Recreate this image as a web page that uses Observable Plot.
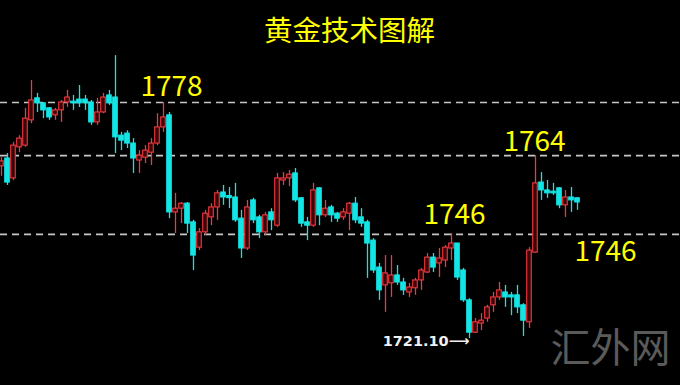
<!DOCTYPE html>
<html>
<head>
<meta charset="utf-8">
<script src="https://cdn.jsdelivr.net/npm/d3@7"></script>
<script src="https://cdn.jsdelivr.net/npm/@observablehq/plot@0.6"></script>
<style>
  html, body { margin: 0; padding: 0; background: #000; }
  #chart { width: 680px; height: 385px; overflow: hidden; }
</style>
</head>
<body>
<div id="chart"></div>
<script>
// Candle data (gold price)
const opens = [1762.6,1764.5,1759.7,1767.2,1767.6,1773.7,1779.0,1777.8,1776.6,1774.9,
  1776.1,1778.0,1778.2,1778.7,1778.7,1778.0,1773.2,1775.6,1779.7,1779.2,
  1770.0,1770.5,1768.1,1764.0,1764.7,1765.9,1768.1,1772.0,1774.9,1751.5,
  1752.4,1753.6,1749.1,1743.0,1746.7,1750.3,1752.7,1756.3,1755.3,1755.1,
  1750.0,1742.8,1754.4,1750.3,1746.7,1751.5,1748.3,1759.2,1759.7,1760.9,
  1754.9,1749.1,1748.3,1757.3,1750.8,1752.7,1751.2,1750.3,1751.2,1753.6,
  1750.3,1749.1,1744.7,1738.2,1733.9,1734.4,1736.3,1734.6,1732.2,1733.2,
  1735.1,1737.0,1740.6,1739.2,1739.9,1742.8,1744.0,1737.5,1730.3,1722.5,
  1724.7,1725.9,1729.1,1731.0,1732.2,1731.5,1731.5,1729.1,1725.0,1741.8,
  1758.7,1756.8,1756.5,1757.3,1753.2,1755.1,1754.9];
const highs = [1764.7,1765.7,1768.4,1770.0,1776.6,1783.3,1780.2,1778.0,1776.8,1776.6,
  1778.5,1780.9,1779.7,1782.1,1779.7,1778.5,1779.0,1780.2,1780.9,1789.3,
  1770.8,1771.2,1769.3,1766.4,1767.6,1769.3,1775.3,1778.0,1775.6,1756.1,
  1753.9,1753.9,1749.6,1747.6,1752.0,1753.6,1756.8,1758.0,1757.5,1758.5,
  1752.0,1754.4,1754.9,1750.8,1751.5,1752.4,1760.9,1761.1,1761.6,1762.1,
  1755.1,1750.3,1758.5,1757.5,1754.4,1753.2,1751.5,1752.4,1753.9,1755.1,
  1752.4,1749.6,1745.2,1739.2,1741.1,1741.1,1738.7,1735.6,1734.4,1735.6,
  1738.0,1741.6,1741.6,1742.8,1743.5,1746.4,1744.0,1738.0,1730.7,1725.9,
  1727.1,1729.1,1732.2,1734.6,1733.9,1732.2,1733.9,1729.5,1743.0,1765.2,
  1761.1,1759.2,1758.5,1757.5,1756.8,1757.5,1755.1];
const lows = [1760.2,1758.0,1759.2,1765.9,1767.2,1772.9,1775.6,1774.1,1773.7,1773.7,
  1773.2,1776.8,1776.1,1776.8,1776.1,1772.5,1772.5,1775.3,1777.3,1765.7,
  1766.4,1766.9,1760.9,1760.9,1763.3,1762.8,1767.6,1770.8,1750.0,1746.4,
  1748.8,1746.4,1737.5,1742.3,1745.9,1748.3,1749.6,1753.2,1752.4,1749.1,
  1740.4,1742.3,1748.8,1745.2,1745.9,1747.1,1747.9,1758.0,1757.7,1753.9,
  1747.9,1744.7,1747.9,1748.3,1750.3,1749.1,1749.1,1749.6,1747.1,1748.8,
  1747.9,1735.6,1736.8,1730.3,1727.4,1731.0,1733.9,1731.5,1731.0,1731.5,
  1732.7,1736.8,1737.0,1735.8,1738.2,1739.9,1735.1,1729.8,1721.1,1722.3,
  1723.0,1725.0,1727.4,1730.3,1728.6,1726.6,1727.1,1721.6,1723.5,1741.6,
  1754.4,1754.9,1755.6,1752.4,1750.3,1751.5,1752.0];
const closes = [1763.8,1758.7,1767.6,1769.3,1774.1,1778.5,1777.8,1776.1,1774.4,1776.1,
  1778.0,1779.2,1777.8,1777.8,1777.8,1773.2,1775.6,1779.2,1777.8,1769.6,
  1768.8,1768.1,1764.5,1765.2,1766.4,1768.1,1772.0,1774.4,1751.5,1752.4,
  1753.6,1748.8,1741.1,1746.7,1751.2,1752.7,1756.1,1755.1,1755.1,1749.6,
  1742.8,1752.7,1749.6,1746.7,1750.8,1749.6,1759.7,1759.7,1760.6,1754.4,
  1748.8,1748.3,1756.8,1750.8,1752.4,1750.8,1750.0,1751.5,1753.6,1749.6,
  1748.8,1744.0,1737.5,1732.7,1736.8,1736.3,1734.6,1732.7,1733.4,1735.1,
  1737.5,1740.6,1738.2,1740.4,1743.0,1744.0,1735.8,1730.3,1722.5,1725.0,
  1725.4,1728.6,1731.0,1732.7,1731.0,1731.0,1728.6,1725.4,1742.3,1758.5,
  1756.8,1756.1,1756.1,1753.2,1755.1,1754.4,1753.9];

// Key levels (dashed lines) and their labels
const levels = [1778, 1765.2, 1746.2];
const title = "黄金技术图解";
const levelLabels = [
  {text: "1778", i: 28, price: 1778,   dx: 2,  dy: -15},
  {text: "1764", i: 89, price: 1765.2, dx: -1, dy: -14},
  {text: "1746", i: 75, price: 1746.2, dx: 3,  dy: -19},
  {text: "1746", i: 96, price: 1746.2, dx: 28, dy: 18}
];
const lowLabel = {text: "1721.10⟶", i: 78, price: 1721.1};
const watermark = "汇外网";

const candles = opens.map((o, i) => ({
  i, open: o, high: highs[i], low: lows[i], close: closes[i], up: closes[i] >= o
}));

const RED = "#f03a3f", CYAN = "#14e4e4", YELLOW = "#ffff00";
const half = 0.38;
const flat = d => Math.abs(d.open - d.close) < 0.3 ? 0.15 : 0;

const chart = Plot.plot({
  width: 680,
  height: 385,
  margin: 0,
  style: {background: "#000", overflow: "visible"},
  x: {type: "linear", domain: [0, 96], range: [1, 577], axis: null},
  y: {domain: [1721.1, 1778], range: [338, 102], axis: null},
  marks: [
    Plot.ruleY(levels, {stroke: "#c8c8c8", strokeWidth: 1.6, strokeDasharray: "7,5"}),
    Plot.ruleX(candles, {x: "i", y1: "low", y2: "high", stroke: d => d.up ? RED : CYAN, strokeWidth: 1.3}),
    Plot.rect(candles, {
      x1: d => d.i - half, x2: d => d.i + half,
      y1: d => Math.min(d.open, d.close) - flat(d),
      y2: d => Math.max(d.open, d.close) + flat(d),
      fill: d => d.up ? "#3a0608" : CYAN,
      stroke: d => d.up ? RED : CYAN,
      strokeWidth: 1.1,
      inset: 0
    }),
    ...levelLabels.map(l => Plot.text([l], {
      x: "i", y: "price", text: "text", dx: l.dx, dy: l.dy, fill: YELLOW,
      fontSize: 28, fontFamily: "Noto Sans CJK SC, sans-serif", textAnchor: "middle", lineAnchor: "middle"
    })),
    Plot.text([lowLabel], {
      x: "i", y: "price", text: "text", dx: 0, dy: 3, fill: "#f0f0f0",
      fontSize: 14.5, fontWeight: "bold", fontFamily: "DejaVu Sans, sans-serif",
      textAnchor: "end", lineAnchor: "middle"
    }),
    Plot.text([title], {
      frameAnchor: "top", dx: 9, dy: 31, fill: YELLOW, fontSize: 28.5,
      fontFamily: "Noto Sans CJK SC, sans-serif", lineAnchor: "middle"
    }),
    Plot.text([watermark], {
      frameAnchor: "bottom-right", dx: -10, dy: -36, fill: "#5a5a5a", fontSize: 40,
      fontFamily: "Noto Sans CJK SC, sans-serif", textAnchor: "end", lineAnchor: "middle"
    })
  ]
});

document.getElementById("chart").appendChild(chart);
</script>
</body>
</html>
